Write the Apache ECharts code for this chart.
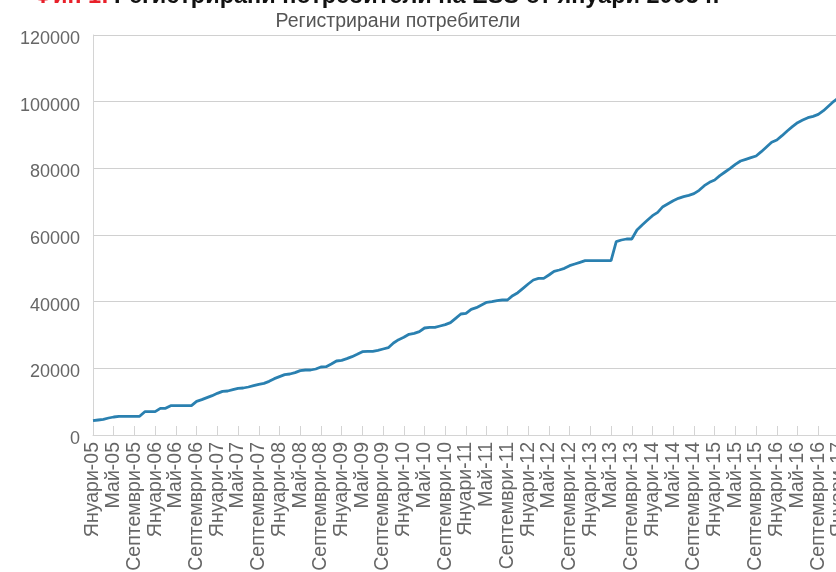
<!DOCTYPE html>
<html>
<head>
<meta charset="utf-8">
<script src="https://cdn.jsdelivr.net/npm/echarts@6/dist/echarts.min.js"></script>
<style>
html,body{margin:0;padding:0;background:#fff;}
#chart{width:836px;height:572px;}
</style>
</head>
<body>
<div id="chart"></div>
<script>
// Month names and years (Jan 2005 .. Jan 2017)
const monthNames = ['Януари','Февруари','Март','Април','Май','Юни','Юли','Август','Септември','Октомври','Ноември','Декември'];
const years = ['05','06','07','08','09','10','11','12','13','14','15','16','17'];

// Registered users, monthly values
const users2005 = [4300, 4500, 4700, 5100, 5400, 5600, 5600, 5600, 5600, 5600, 7000, 7000];
const users2006 = [7000, 8000, 8000, 8800, 8800, 8800, 8800, 8800, 10100, 10600, 11200, 11800];
const users2007 = [12500, 13100, 13200, 13600, 14000, 14100, 14400, 14800, 15200, 15500, 16100, 16900];
const users2008 = [17500, 18100, 18300, 18700, 19300, 19500, 19500, 19800, 20400, 20500, 21300, 22200];
const users2009 = [22400, 22900, 23500, 24200, 25000, 25100, 25100, 25400, 25800, 26200, 27600, 28600];
const users2010 = [29300, 30200, 30500, 31000, 32100, 32300, 32300, 32700, 33100, 33700, 35000, 36300];
const users2011 = [36500, 37700, 38200, 39000, 39800, 40000, 40300, 40500, 40500, 41800, 42700, 44000];
const users2012 = [45300, 46500, 47000, 47000, 48000, 49100, 49500, 50000, 50800, 51300, 51800, 52300];
const users2013 = [52300, 52300, 52300, 52300, 52300, 58000, 58500, 58800, 58800, 61500, 63000, 64400];
const users2014 = [65800, 66800, 68500, 69400, 70300, 71000, 71500, 71900, 72400, 73400, 74800, 75800];
const users2015 = [76500, 77800, 78900, 80000, 81200, 82200, 82700, 83200, 83700, 85000, 86400, 87800];
const users2016 = [88500, 89800, 91200, 92500, 93700, 94500, 95200, 95600, 96200, 97300, 98700, 100100];
const users2017 = [101300];

const yTicks = [0, 20000, 40000, 60000, 80000, 100000, 120000];

const categories = [];
years.forEach((y, yi) => {
  monthNames.forEach((m, mi) => {
    if (yi < years.length - 1 || mi === 0) categories.push(m + '-' + y);
  });
});
const values = [].concat(users2005, users2006, users2007, users2008, users2009, users2010,
  users2011, users2012, users2013, users2014, users2015, users2016, users2017);

const chart = echarts.init(document.getElementById('chart'), null, {renderer: 'canvas'});
const fontFam = '"Liberation Sans", Arial, Helvetica, sans-serif';
chart.setOption({
  animation: false,
  backgroundColor: '#ffffff',
  title: [{
    text: '{r|Фиг. 1:} {b|Регистрирани потребители на ESS от януари 2005 г.}',
    left: 28,
    top: -20,
    textStyle: {
      rich: {
        r: {color: '#e8202a', fontSize: 23.5, fontWeight: 'bold', fontFamily: fontFam},
        b: {color: '#111111', fontSize: 23.5, fontWeight: 'bold', fontFamily: fontFam}
      }
    }
  }, {
    text: 'Регистрирани потребители',
    left: 393,
    textAlign: 'center',
    top: 7,
    textStyle: {color: '#555555', fontSize: 19.5, fontWeight: 'normal', fontFamily: fontFam}
  }],
  grid: {left: 93, right: -3, top: 35, bottom: 137, outerBoundsMode: 'none', containLabel: false},
  xAxis: {
    type: 'category',
    data: categories,
    boundaryGap: false,
    axisLine: {show: true, lineStyle: {color: '#d4d4d4', width: 1}},
    axisTick: {show: true, inside: true, length: 9, interval: 3, lineStyle: {color: '#d4d4d4'}},
    axisLabel: {interval: 3, rotate: 90, color: '#666666', fontSize: 19.5, fontFamily: fontFam, margin: 7, hideOverlap: false},
    splitLine: {show: false}
  },
  yAxis: {
    type: 'value',
    min: yTicks[0],
    max: yTicks[yTicks.length - 1],
    interval: 20000,
    axisLine: {show: true, lineStyle: {color: '#d4d4d4', width: 1}},
    axisTick: {show: false},
    axisLabel: {
      color: '#666666', fontSize: 18, fontFamily: fontFam, margin: 13,
      formatter: v => '{a|' + v + '}',
      rich: {a: {color: '#666666', fontSize: 18, fontFamily: fontFam, padding: [8, 0, 0, 0]}}
    },
    splitLine: {show: true, lineStyle: {color: '#d0d0d0', width: 1}}
  },
  series: [{
    type: 'line',
    data: values,
    showSymbol: false,
    symbol: 'none',
    lineStyle: {color: '#2a80b0', width: 2.8},
    clip: true
  }]
});
</script>
</body>
</html>
